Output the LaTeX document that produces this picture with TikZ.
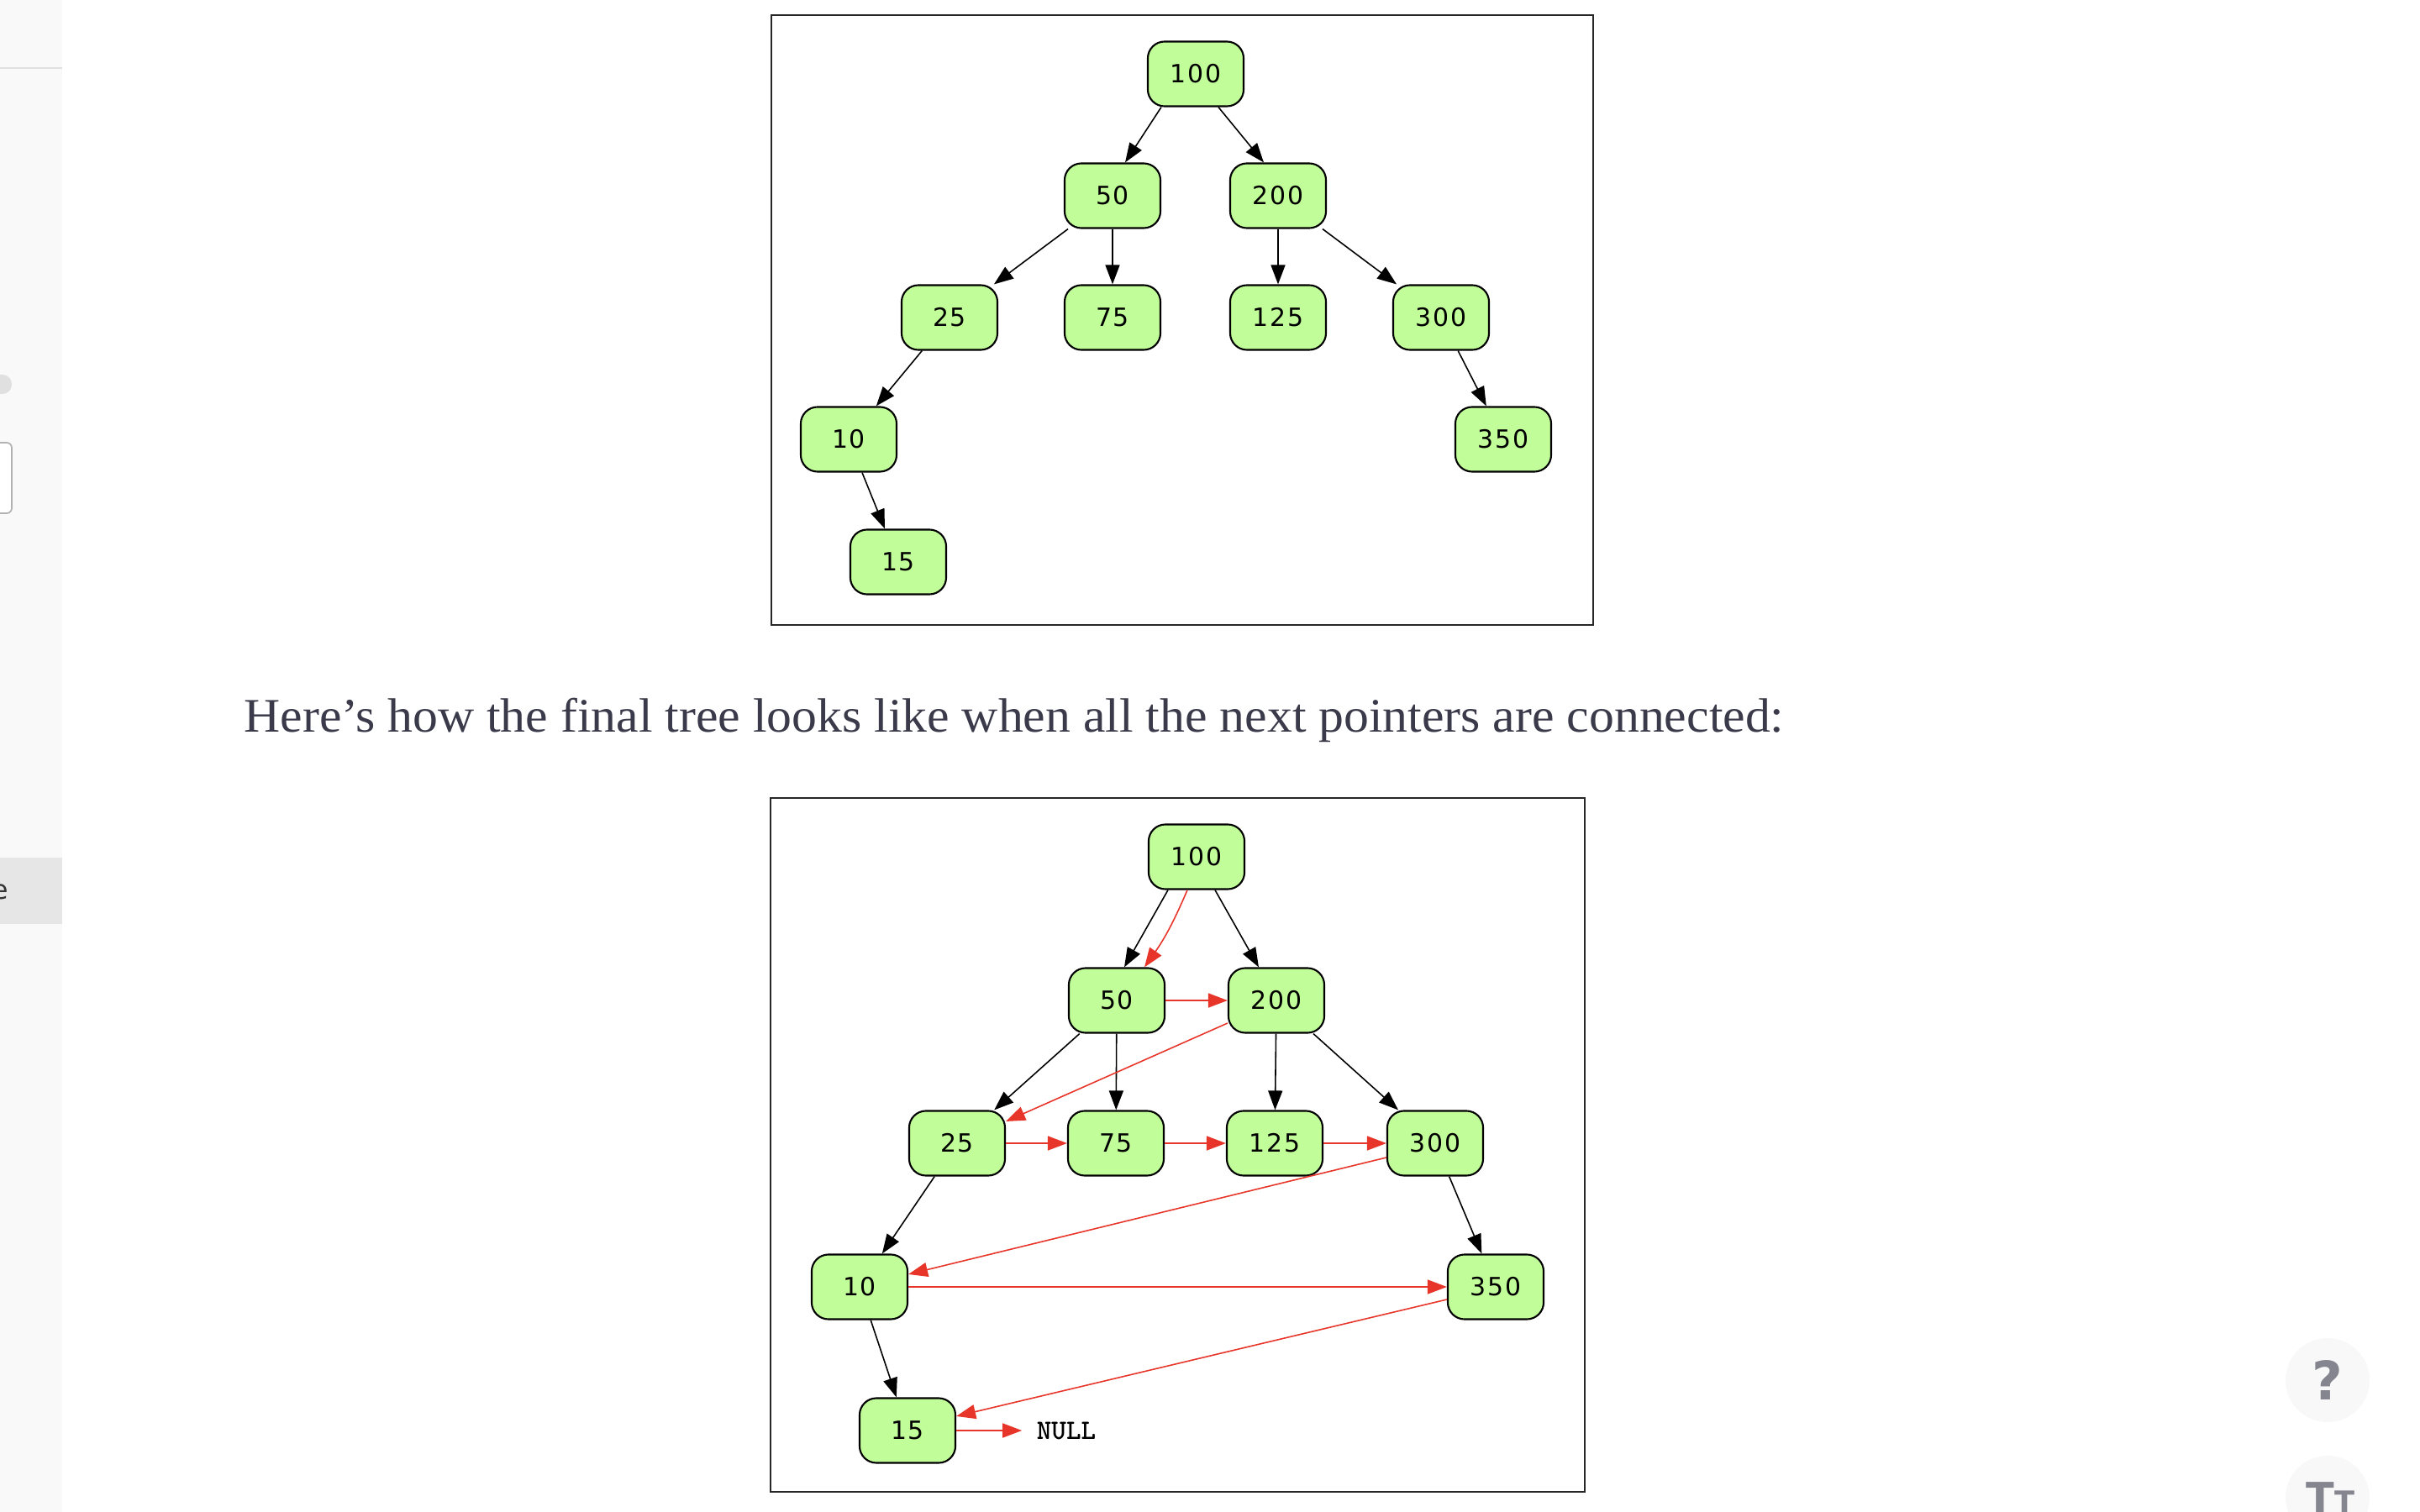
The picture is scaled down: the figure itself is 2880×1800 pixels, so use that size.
\documentclass[tikz,border=0pt]{standalone}
\usepackage{fontspec}
\setmainfont{Liberation Serif}
\newfontfamily\captionfont[FakeStretch=1.042]{Liberation Serif}
\newfontfamily\keyfont[LetterSpace=6]{DejaVu Sans}
\newfontfamily\uifont{DejaVu Sans}
\usetikzlibrary{positioning}
\usetikzlibrary{arrows.meta}
\definecolor{keygreen}{RGB}{193,253,152}
\definecolor{nextred}{RGB}{232,53,42}
\definecolor{textgray}{RGB}{58,58,74}
\definecolor{sidegray}{RGB}{249,249,249}
\definecolor{rowgray}{RGB}{230,230,230}
\definecolor{btngray}{RGB}{248,248,249}
\definecolor{icongray}{RGB}{133,133,143}

\begin{document}
\begin{tikzpicture}[
	x=0.01cm, y=-0.01cm,
	>={Triangle[length=0.23cm, width=0.17cm]},
	key/.style={rounded corners=0.2cm, rectangle, draw, line width=0.6pt, fill=keygreen, minimum width=1.14cm, minimum height=0.77cm, inner sep=0pt, font=\keyfont\fontsize{8.5}{10}\selectfont},
	branch/.style={->, line width=0.45pt},
	nextptr/.style={->, line width=0.45pt, color=nextred},
	frame/.style={draw=black!85, line width=0.6pt},
	]

	\useasboundingbox (0,0) rectangle (2880,1800);

	% page side panel and buttons
	\fill[sidegray] (0,0) rectangle (74,1800);
	\draw[black!12, line width=0.4pt] (0,81) -- (74,81);
	\fill[black!12, rounded corners=0.11cm] (-30,446) rectangle (14,469);
	\draw[black!30, fill=white, line width=0.5pt, rounded corners=0.06cm] (-30,527) rectangle (14,611);
	\fill[rowgray] (0,1021) rectangle (74,1100);
	\node[anchor=base east, inner sep=0pt, font=\uifont\fontsize{9}{10}\selectfont, text=black!80] (side) at (11,1070) {e};
	\node[circle, fill=btngray, minimum size=1cm, inner sep=0pt, text=icongray, font=\uifont\bfseries\fontsize{18}{18}\selectfont] (help) at (2770,1643) {?};
	\fill[btngray] (2770,1783) circle (50);
	\node[anchor=base west, inner sep=0pt, text=icongray, font=\uifont\bfseries] (size) at (2744,1800) {{\fontsize{14}{14}\selectfont T}{\fontsize{10}{10}\selectfont T}};

	% tree before linking
	\draw[frame] (918,18) rectangle (1896,744);
	\begin{scope}[name prefix=top/]
		\node[key] (n100) at (1423,88) {100};
		\node[key] (n50) at (1324,233) {50};
		\node[key] (n200) at (1521,233) {200};
		\node[key] (n25) at (1130,378) {25};
		\node[key] (n75) at (1324,378) {75};
		\node[key] (n125) at (1521,378) {125};
		\node[key] (n300) at (1715,378) {300};
		\node[key] (n10) at (1010,523) {10};
		\node[key] (n350) at (1789,523) {350};
		\node[key] (n15) at (1069,669) {15};

		\draw[branch] ([xshift=-0.41cm]n100.south) -- ([xshift=0.15cm]n50.north);
		\draw[branch] ([xshift=0.27cm]n100.south) -- ([xshift=-0.17cm]n200.north);
		\draw[branch] (n50) -- (n25);
		\draw[branch] (n50) -- (n75);
		\draw[branch] (n200) -- (n125);
		\draw[branch] (n200) -- (n300);
		\draw[branch] (n25) -- (n10);
		\draw[branch] (n300) -- (n350);
		\draw[branch] (n10) -- (n15);
	\end{scope}

	\node[anchor=base west, inner sep=0pt, text=textgray, font=\captionfont\fontsize{16.3}{20}\selectfont] (caption) at (290,871) {Here’s how the final tree looks like when all the next pointers are connected:};

	% tree with next pointers
	\draw[frame] (917,950) rectangle (1886,1776);
	\begin{scope}[name prefix=bot/]
		\node[key] (n100) at (1424,1020) {100};
		\node[key] (n50) at (1329,1191) {50};
		\node[key] (n200) at (1519,1191) {200};
		\node[key] (n25) at (1139,1361) {25};
		\node[key] (n75) at (1328,1361) {75};
		\node[key] (n125) at (1517,1361) {125};
		\node[key] (n300) at (1708,1361) {300};
		\node[key] (n10) at (1023,1532) {10};
		\node[key] (n350) at (1780,1532) {350};
		\node[key] (n15) at (1080,1703) {15};
		\node[inner sep=0.17cm, font=\ttfamily\bfseries\fontsize{9.5}{10}\selectfont] (null) at (1269,1703) {NULL};

		\draw[branch] ([xshift=-0.34cm]n100.south) -- ([xshift=0.09cm]n50.north);
		\draw[branch] ([xshift=0.22cm]n100.south) -- ([xshift=-0.21cm]n200.north);
		\draw[branch] (n50) -- (n25);
		\draw[branch] (n50) -- (n75);
		\draw[branch] (n200) -- (n125);
		\draw[branch] (n200) -- (n300);
		\draw[branch] (n25) -- (n10);
		\draw[branch] (n300) -- (n350);
		\draw[branch] (n10) -- (n15);

		\draw[nextptr] ([xshift=-0.11cm]n100.south) to[bend left=6] ([xshift=0.33cm]n50.north);
		\draw[nextptr] (n50.east) -- (n200.west);
		\draw[nextptr] ([yshift=-0.27cm]n200.west) -- ([yshift=0.26cm]n25.east);
		\draw[nextptr] (n25.east) -- (n75.west);
		\draw[nextptr] (n75.east) -- (n125.west);
		\draw[nextptr] (n125.east) -- (n300.west);
		\draw[nextptr] ([yshift=-0.17cm]n300.west) -- ([yshift=0.15cm]n10.east);
		\draw[nextptr] (n10.east) -- (n350.west);
		\draw[nextptr] ([yshift=-0.15cm]n350.west) -- ([yshift=0.17cm]n15.east);
		\draw[nextptr] (n15.east) -- (null.west);
	\end{scope}

\end{tikzpicture}
\end{document}
